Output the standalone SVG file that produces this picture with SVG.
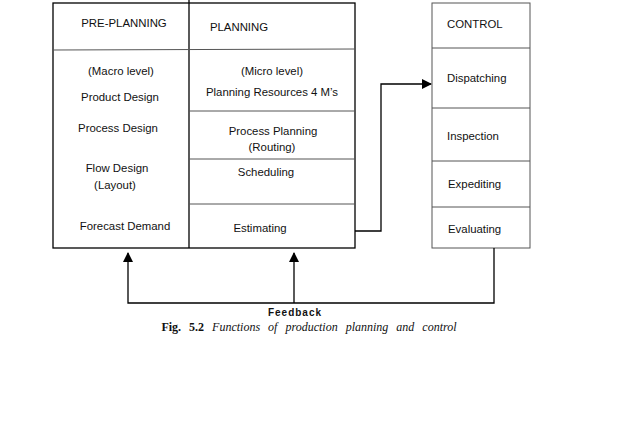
<svg xmlns="http://www.w3.org/2000/svg" width="640" height="427" viewBox="0 0 640 427">
<style>
text{font-family:"Liberation Sans",Arial,sans-serif;font-size:11.4px;fill:#111;text-anchor:middle}
.b{fill:none;stroke:#000;stroke-width:1.3}
.g{fill:none;stroke:#555;stroke-width:1}
.c{fill:none;stroke:#000;stroke-width:1.3}
</style>
<defs><marker id="a" markerWidth="10" markerHeight="10" refX="9" refY="5" orient="auto" markerUnits="userSpaceOnUse"><path d="M0,0 L10,5 L0,10 z" fill="#000"/></marker></defs>
<g id="pre-planning">
<rect class="b" x="53" y="3" width="302" height="245"/>
<line class="b" x1="189" y1="0" x2="189" y2="248"/>
<line class="g" x1="53" y1="50" x2="355" y2="49"/>
<text x="124" y="27">PRE-PLANNING</text>
<text x="121" y="75">(Macro level)</text>
<text x="120" y="101">Product Design</text>
<text x="118" y="132">Process Design</text>
<text x="117" y="172">Flow Design</text>
<text x="115" y="189">(Layout)</text>
<text x="125" y="230">Forecast Demand</text>
</g>
<g id="planning">
<line class="g" x1="189" y1="111" x2="355" y2="111"/>
<line class="g" x1="189" y1="159" x2="355" y2="159"/>
<line class="g" x1="189" y1="204" x2="355" y2="204"/>
<text x="239" y="31">PLANNING</text>
<text x="272" y="75">(Micro level)</text>
<text x="272" y="96">Planning Resources 4 M’s</text>
<text x="273" y="135">Process Planning</text>
<text x="272" y="151">(Routing)</text>
<text x="266" y="176">Scheduling</text>
<text x="260" y="232">Estimating</text>
</g>
<g id="control">
<rect class="g" x="432" y="3" width="98" height="245"/>
<line class="g" x1="432" y1="48" x2="530" y2="48"/>
<line class="g" x1="432" y1="108" x2="530" y2="108"/>
<line class="g" x1="432" y1="161" x2="530" y2="161"/>
<line class="g" x1="432" y1="207" x2="530" y2="207"/>
<text x="447" y="28" style="text-anchor:start">CONTROL</text>
<text x="447" y="82" style="text-anchor:start">Dispatching</text>
<text x="447" y="140" style="text-anchor:start">Inspection</text>
<text x="448" y="188" style="text-anchor:start">Expediting</text>
<text x="448" y="233" style="text-anchor:start">Evaluating</text>
</g>
<g id="connectors">
<polyline class="c" points="355,231 381,231 381,84 431,84" marker-end="url(#a)"/>
<polyline class="c" points="494,248 494,303 128,303 128,253" marker-end="url(#a)"/>
<line class="c" x1="294" y1="303" x2="294" y2="253" marker-end="url(#a)"/>
</g>
<text x="295" y="316" style="font-weight:bold;font-size:10px;letter-spacing:1px">Feedback</text>
<text x="309" y="331" style="font-family:'Liberation Serif',serif;font-size:12px;word-spacing:5px"><tspan font-weight="bold">Fig. 5.2</tspan> <tspan font-style="italic">Functions of production planning and control</tspan></text>
</svg>
